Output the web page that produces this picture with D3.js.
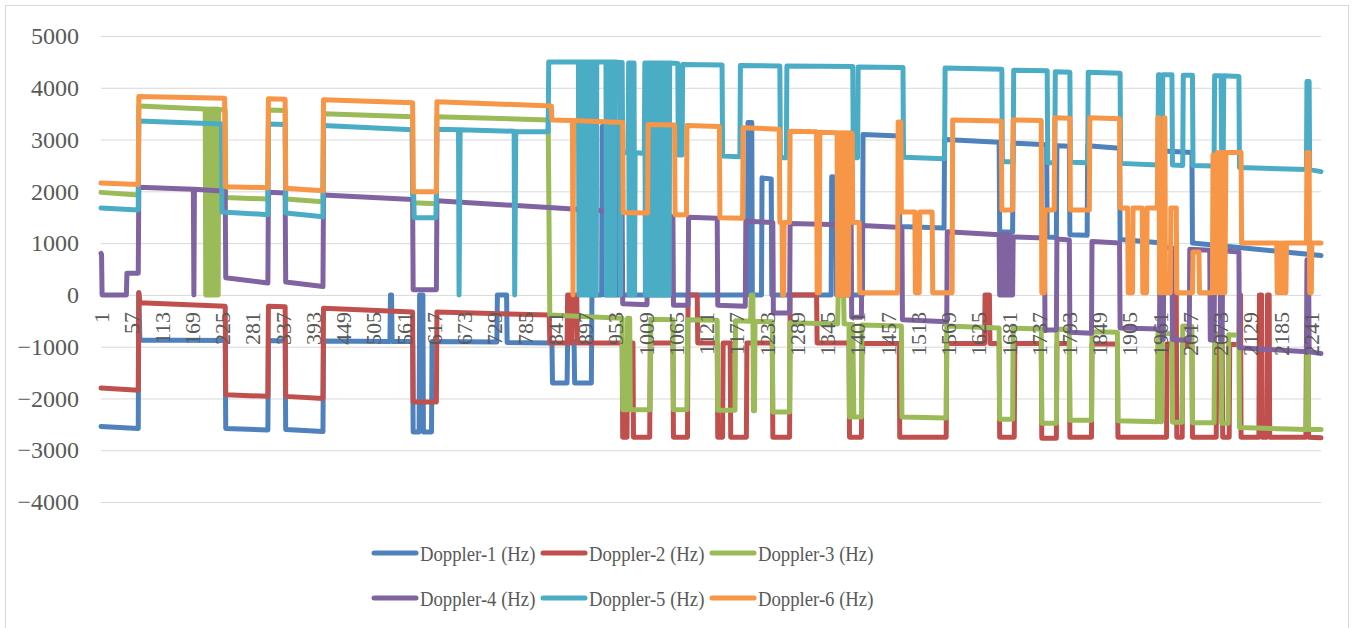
<!DOCTYPE html>
<html>
<head>
<meta charset="utf-8">
<script src="https://cdn.jsdelivr.net/npm/d3@7"></script>
<style>
  body { margin: 0; background: #fff; }
  svg { display: block; }
  text { font-family: "Liberation Serif", "Times New Roman", serif; fill: #595959; }
</style>
</head>
<body>
<div id="chart"></div>
<script>
// sample index where each series changes, and the value (Hz) there
var doppler1 = [[1,-2540],[70,-2580],[71,40],[73,-870],[231,-880],[232,-2580],[310,-2610],[311,-880],[342,-890],[343,-2600],[412,-2640],[413,-890],[536,-900],[537,0],[539,0],[540,-900],[578,-900],[579,-2650],[590,-2650],[591,0],[597,0],[598,-2650],[613,-2650],[614,-900],[734,-910],[735,0],[752,0],[753,-920],[836,-930],[837,-1700],[864,-1700],[865,-900],[877,-900],[878,-1700],[909,-1700],[910,0],[928,0],[929,3250],[933,3250],[934,0],[955,0],[956,3250],[958,3250],[959,0],[1198,0],[1199,3330],[1206,3330],[1207,0],[1224,0],[1225,2260],[1242,2240],[1243,0],[1353,0],[1354,2280],[1362,2270],[1363,0],[1411,0],[1412,3100],[1479,3070],[1480,1320],[1562,1290],[1563,3000],[1664,2950],[1665,1220],[1689,1210],[1690,2930],[1752,2900],[1753,1120],[1770,1110],[1771,2880],[1794,2870],[1795,1160],[1827,1150],[1828,2880],[1887,2830],[1888,1070],[1967,1000],[1968,2780],[2021,2750],[2022,1000],[2260,760]];

var doppler2 = [[1,-1800],[70,-1840],[71,40],[73,-150],[231,-220],[232,-1930],[310,-1960],[311,-220],[342,-230],[343,-1960],[412,-2000],[413,-260],[578,-330],[579,-2070],[622,-2070],[623,-330],[831,-390],[832,-930],[864,-930],[865,0],[868,0],[869,-930],[873,-930],[874,0],[882,0],[883,-930],[966,-930],[967,-2750],[975,-2750],[976,-930],[986,-930],[987,-2750],[1017,-2750],[1018,-930],[1060,-930],[1061,-2750],[1087,-2750],[1088,0],[1105,0],[1106,-930],[1142,-930],[1143,-2750],[1152,-2750],[1153,-930],[1166,-930],[1167,-2750],[1196,-2750],[1197,-930],[1244,-930],[1245,-2750],[1276,-2750],[1277,0],[1326,0],[1327,-930],[1386,-930],[1387,-2750],[1409,-2750],[1410,-940],[1479,-940],[1480,-2750],[1566,-2750],[1567,-940],[1637,-940],[1638,0],[1646,0],[1647,-940],[1664,-940],[1665,-2750],[1692,-2750],[1693,-940],[1742,-940],[1743,-2770],[1770,-2770],[1771,-940],[1794,-940],[1795,-2750],[1835,-2750],[1836,-950],[1883,-950],[1884,-2750],[1974,-2750],[1975,-950],[1989,-950],[1990,0],[1992,0],[1993,-2750],[2003,-2750],[2004,-960],[2021,-960],[2022,-2750],[2066,-2750],[2067,-960],[2077,-960],[2078,-2750],[2090,-2750],[2091,-960],[2108,-960],[2109,0],[2111,0],[2112,-2750],[2145,-2750],[2146,0],[2150,0],[2151,-2750],[2160,-2750],[2161,0],[2164,0],[2165,-2750],[2232,-2750],[2233,-960],[2236,-960],[2237,-2750],[2260,-2760]];

var doppler3 = [[1,1980],[70,1930],[71,3650],[194,3590],[195,0],[197,3590],[199,0],[201,3590],[203,0],[205,3590],[207,0],[209,3590],[211,0],[213,3590],[215,0],[217,3590],[218,0],[219,3580],[231,3570],[232,1880],[310,1850],[311,3570],[342,3560],[343,1850],[412,1800],[413,3500],[578,3440],[579,1780],[622,1760],[623,3440],[829,3380],[832,-390],[966,-450],[967,-2220],[975,-2220],[976,-450],[980,-450],[981,-2220],[1018,-2220],[1019,-470],[1060,-480],[1061,-2220],[1086,-2220],[1087,-480],[1142,-490],[1143,-2230],[1175,-2230],[1176,-500],[1204,-510],[1205,0],[1208,0],[1209,-2240],[1211,-2240],[1212,-510],[1244,-520],[1245,-2260],[1276,-2260],[1277,-540],[1365,-560],[1366,0],[1376,0],[1377,-560],[1386,-570],[1387,-2360],[1389,-570],[1391,-2360],[1393,-570],[1395,-2360],[1409,-2360],[1410,-580],[1483,-600],[1484,-2360],[1566,-2380],[1567,-600],[1664,-640],[1665,-2400],[1689,-2400],[1690,-640],[1742,-660],[1743,-2480],[1770,-2480],[1771,-660],[1794,-680],[1795,-2420],[1835,-2420],[1836,-710],[1883,-720],[1884,-2430],[1957,-2450],[1958,-740],[1962,-740],[1963,-2450],[1965,-2450],[1966,-740],[1984,-750],[1985,-2460],[2003,-2460],[2004,-600],[2021,-610],[2022,-2470],[2062,-2470],[2063,-760],[2075,-760],[2076,-2480],[2088,-2480],[2089,-770],[2108,-780],[2109,-2560],[2233,-2600],[2234,-820],[2236,-820],[2237,-2600],[2260,-2600]];

var doppler4 = [[1,800],[2,780],[3,0],[48,0],[49,420],[70,420],[71,2080],[172,2040],[173,0],[174,2040],[231,2000],[232,330],[310,230],[311,1980],[342,1970],[343,250],[412,160],[413,1930],[578,1840],[579,100],[622,100],[623,1820],[966,1600],[967,-170],[1012,-190],[1013,1540],[1060,1510],[1061,-200],[1088,-200],[1089,1500],[1142,1480],[1143,-200],[1194,-220],[1195,1420],[1245,1400],[1246,-350],[1276,-350],[1277,1380],[1390,1350],[1391,-430],[1409,-430],[1410,1340],[1484,1300],[1485,-480],[1567,-520],[1568,1220],[1664,1160],[1665,0],[1667,1160],[1669,0],[1671,1160],[1673,0],[1675,1160],[1677,0],[1679,1160],[1681,0],[1683,1160],[1685,0],[1689,0],[1690,1120],[1748,1100],[1749,-680],[1770,-680],[1771,1080],[1794,1060],[1795,-720],[1835,-740],[1836,1030],[1887,1000],[1888,-640],[1961,-660],[1962,930],[1965,930],[1966,-860],[1968,-860],[1969,920],[1984,910],[1985,-860],[2016,-880],[2017,880],[2054,860],[2055,-870],[2062,-870],[2063,860],[2073,850],[2074,-880],[2077,-880],[2078,850],[2108,830],[2109,-1020],[2233,-1100],[2234,680],[2237,680],[2238,-1100],[2260,-1130]];

var doppler5 = [[1,1680],[70,1640],[71,3360],[224,3300],[225,1600],[310,1550],[311,3300],[342,3290],[343,1580],[412,1510],[413,3270],[577,3190],[578,1930],[580,1930],[581,1490],[621,1490],[622,1930],[623,3200],[663,3190],[664,0],[666,3190],[766,3160],[767,0],[769,3150],[829,3150],[830,4500],
  [885,4500],[886,0],[887,4500],[889,4500],[890,0],[891,4500],[893,4500],[894,0],[895,4500],[897,4500],[898,0],[899,4500],[901,4500],[902,0],[903,4500],[905,4500],[906,0],[907,4500],[909,4500],[910,0],[911,4500],[913,4500],[914,0],[915,4500],[917,4500],[918,0],[919,4500],
  [936,4500],[937,0],[938,4500],[941,4500],[942,0],[943,4500],[946,4500],[947,0],[948,4500],[951,4500],[952,0],[953,4500],[962,4490],[963,0],[964,4490],[966,4490],[967,2750],
  [977,2750],[978,4480],[979,0],[980,4480],[983,4480],[984,0],[985,4480],[988,4480],[989,0],[990,2750],[1007,2730],[1008,4480],
  [1009,0],[1010,4480],[1012,4480],[1013,0],[1014,4480],[1016,4480],[1017,0],[1018,4480],[1020,4480],[1021,0],[1022,4480],[1024,4480],[1025,0],[1026,4480],[1028,4480],[1029,0],[1030,4480],[1032,4480],[1033,0],[1034,4480],[1036,4480],[1037,0],[1038,4480],[1040,4480],[1041,0],[1042,4480],[1044,4480],[1045,0],[1046,4480],[1048,4480],[1049,0],[1050,4480],[1052,4480],[1053,0],[1054,4480],
  [1069,4470],[1070,2700],[1077,2700],[1078,4450],[1151,4440],[1152,2680],[1184,2670],[1185,4430],[1258,4420],[1259,2650],[1270,2650],[1271,4420],[1393,4410],[1394,2650],[1402,2650],[1403,4400],[1486,4390],[1487,2660],[1563,2630],[1564,4380],[1669,4360],[1670,2570],[1690,2570],[1691,4340],[1753,4330],[1754,2550],[1767,2550],[1768,4310],[1795,4300],[1796,2560],[1828,2550],[1829,4300],[1888,4280],[1889,2540],[1958,2510],[1959,4250],[1961,4250],[1962,2510],[1966,2510],[1967,4250],[1984,4250],[1985,2510],[2004,2500],[2005,4240],[2022,4240],[2023,2500],[2062,2490],[2063,4230],[2075,4230],[2076,2750],[2079,2750],[2080,4230],[2108,4220],[2109,2460],[2233,2420],[2234,4120],[2238,4120],[2239,2420],[2260,2380]];

var doppler6 = [[1,2160],[70,2130],[71,3830],[230,3800],[231,2090],[310,2070],[311,3790],[342,3780],[343,2060],[412,2010],[413,3770],[578,3710],[579,1990],[622,1990],[623,3730],[835,3650],[836,3380],[874,3370],[875,0],[876,3370],[967,3330],[968,1590],[1013,1580],[1014,3290],[1063,3280],[1064,1550],[1085,1550],[1086,3270],[1146,3250],[1147,1490],[1189,1480],[1190,3230],[1257,3200],[1258,1400],[1262,1400],[1263,0],[1265,0],[1266,1400],[1276,1400],[1277,3160],[1326,3150],[1327,40],[1331,40],[1332,3140],[1364,3130],[1365,0],[1367,3130],[1369,0],[1371,3130],[1373,0],[1375,3130],[1377,0],[1379,3130],[1381,0],[1383,3130],[1385,0],[1387,3130],[1392,3120],[1393,1400],[1405,1400],[1406,40],[1476,40],[1477,3340],[1482,3340],[1483,1600],[1508,1600],[1509,40],[1516,40],[1517,1600],[1540,1600],[1541,40],[1577,40],[1578,3380],[1668,3360],[1669,1640],[1689,1640],[1690,3380],[1742,3370],[1743,40],[1748,40],[1749,1640],[1766,1640],[1767,3420],[1795,3410],[1796,1640],[1831,1640],[1832,3420],[1887,3400],[1888,1680],[1902,1680],[1903,40],[1911,40],[1912,1680],[1929,1680],[1930,40],[1937,40],[1938,1680],[1957,1680],[1958,3420],[1960,3420],[1961,40],[1966,40],[1967,1680],[1968,40],[1969,1680],[1970,3420],[1971,3420],[1972,40],[1981,40],[1982,1680],[1992,1680],[1993,40],[2022,40],[2023,830],[2034,830],[2035,40],[2059,40],[2060,2700],[2062,40],[2064,2700],[2066,40],[2068,2750],[2070,40],[2072,2750],[2074,40],[2076,2750],[2078,40],[2080,2750],[2082,40],[2084,2750],[2112,2750],[2113,1000],[2178,1000],[2179,40],[2181,1000],[2183,40],[2185,1000],[2187,40],[2189,1000],[2191,40],[2193,1000],[2195,40],[2196,1000],[2233,1000],[2234,2750],[2238,2750],[2239,40],[2242,40],[2243,1000],[2260,1000]];

var seriesNames = ["Doppler-1 (Hz)", "Doppler-2 (Hz)", "Doppler-3 (Hz)", "Doppler-4 (Hz)", "Doppler-5 (Hz)", "Doppler-6 (Hz)"];
var seriesColors = ["#4F81BD", "#C0504D", "#9BBB59", "#8064A2", "#4BACC6", "#F79646"];
var allSeries = [doppler1, doppler2, doppler3, doppler4, doppler5, doppler6];

var xTickLabels = [1,57,113,169,225,281,337,393,449,505,561,617,673,729,785,841,897,953,1009,1065,1121,1177,1233,1289,1345,1401,1457,1513,1569,1625,1681,1737,1793,1849,1905,1961,2017,2073,2129,2185,2241];
var yTickLabels = [-4000,-3000,-2000,-1000,0,1000,2000,3000,4000,5000];
var pointCount = 2260;

var width = 1354, height = 628;
var margin = { left: 101, right: 1321, top: 36, bottom: 502 };

var svg = d3.select("#chart").append("svg")
  .attr("width", width)
  .attr("height", height);

// chart border
svg.append("rect")
  .attr("x", 5.5).attr("y", 5.5)
  .attr("width", 1343).attr("height", 640)
  .attr("fill", "#fff")
  .attr("stroke", "#D9D9D9");

var x = d3.scaleLinear().domain([1, pointCount]).range([margin.left, margin.right]);
var y = d3.scaleLinear().domain([-4000, 5000]).range([margin.bottom, margin.top]);

// y axis with gridlines
var yAxis = svg.append("g")
  .attr("transform", "translate(" + margin.left + ",0)")
  .call(d3.axisLeft(y).tickValues(yTickLabels).tickSize(-(margin.right - margin.left)).tickPadding(22).tickFormat(d3.format("d")));
yAxis.select(".domain").remove();
yAxis.selectAll("line").attr("stroke", "#D9D9D9");
yAxis.selectAll("text").style("font-size", "24px").attr("fill", "#595959");

// the lines
var line = d3.line()
  .x(function (d) { return x(d[0]); })
  .y(function (d) { return y(d[1]); });

svg.selectAll(".series")
  .data(allSeries)
  .enter().append("path")
  .attr("class", "series")
  .attr("d", line)
  .attr("fill", "none")
  .attr("stroke", function (d, i) { return seriesColors[i]; })
  .attr("stroke-width", 5)
  .attr("stroke-linejoin", "round")
  .attr("stroke-linecap", "round");

// category axis sits on the zero line, labels turned upright
var xAxis = svg.append("g")
  .attr("transform", "translate(0," + y(0) + ")")
  .call(d3.axisBottom(x).tickValues(xTickLabels).tickSize(0).tickFormat(d3.format("d")));
xAxis.select(".domain").remove();
xAxis.selectAll("text")
  .attr("y", 0)
  .attr("x", -17)
  .attr("dy", "0.35em")
  .attr("transform", "rotate(-90)")
  .style("text-anchor", "end")
  .style("font-size", "22px")
  .attr("fill", "#595959");

// legend, two rows of three
var legend = svg.selectAll(".legend")
  .data(seriesNames)
  .enter().append("g")
  .attr("class", "legend")
  .attr("transform", function (d, i) {
    return "translate(" + (372 + (i % 3) * 169) + "," + (553 + Math.floor(i / 3) * 45) + ")";
  });

legend.append("line")
  .attr("x1", 2).attr("x2", 44)
  .attr("stroke", function (d, i) { return seriesColors[i]; })
  .attr("stroke-width", 5)
  .attr("stroke-linecap", "round");

// legend text is a little narrow in the original
legend.append("text")
  .attr("transform", "translate(48,0) scale(0.87,1)")
  .attr("dy", "0.35em")
  .style("font-size", "21.5px")
  .text(function (d) { return d; });
</script>
</body>
</html>
